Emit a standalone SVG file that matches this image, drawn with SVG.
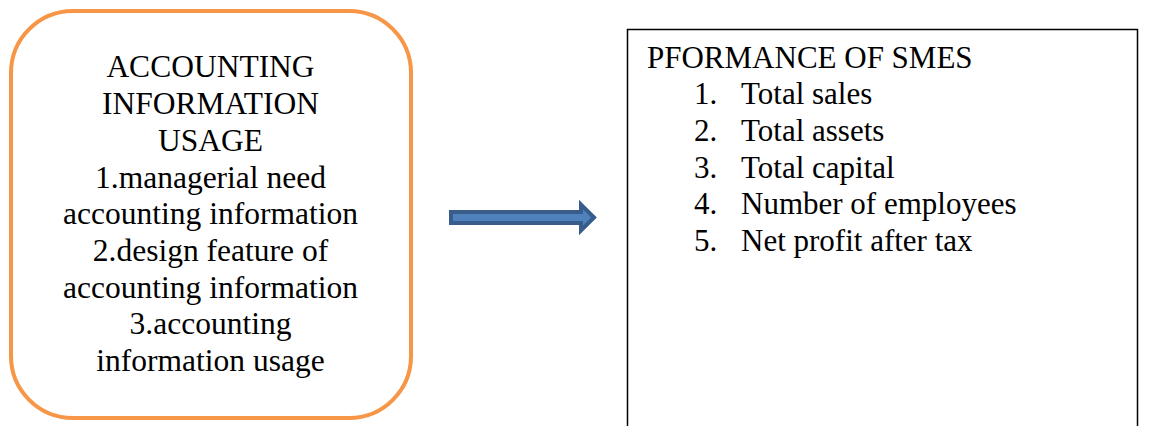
<svg xmlns="http://www.w3.org/2000/svg" width="1154" height="426" viewBox="0 0 1154 426">
<style>
.l{font-size:31.5px;text-anchor:middle}
.r{font-size:31px}
</style>
<rect width="1154" height="426" fill="#fff"/>
<g id="node-accounting" font-family="'Liberation Serif', 'Times New Roman', serif" fill="#000">
<rect x="11" y="11" width="400" height="407" rx="62" ry="62" fill="#fff" stroke="#F79646" stroke-width="4"/>
<text class="l" x="210.5" y="77">ACCOUNTING</text>
<text class="l" x="210.5" y="114">INFORMATION</text>
<text class="l" x="210.5" y="151">USAGE</text>
<text class="l" x="210.5" y="187.5">1.managerial need</text>
<text class="l" x="210.5" y="224">accounting information</text>
<text class="l" x="210.5" y="261">2.design feature of</text>
<text class="l" x="210.5" y="297.5">accounting information</text>
<text class="l" x="210.5" y="334">3.accounting</text>
<text class="l" x="210.5" y="371">information usage</text>
</g>
<g id="connectors">
<polygon points="451,212 581,212 581,204.5 594,217.5 581,230.5 581,223 451,223" fill="#4F81BD" stroke="#385D8A" stroke-width="4" stroke-linejoin="miter"/>
</g>
<g id="node-performance" font-family="'Liberation Serif', 'Times New Roman', serif" fill="#000">
<rect x="627.5" y="29.5" width="510" height="410" fill="#fff" stroke="#000" stroke-width="1.5"/>
<text class="r" x="647" y="68">PFORMANCE OF SMES</text>
<text class="r" x="694" y="104">1.</text>
<text class="r" x="741" y="104">Total sales</text>
<text class="r" x="694" y="141">2.</text>
<text class="r" x="741" y="141">Total assets</text>
<text class="r" x="694" y="177.5">3.</text>
<text class="r" x="741" y="177.5">Total capital</text>
<text class="r" x="694" y="214">4.</text>
<text class="r" x="741" y="214">Number of employees</text>
<text class="r" x="694" y="251">5.</text>
<text class="r" x="741" y="251">Net profit after tax</text>
</g>
</svg>
